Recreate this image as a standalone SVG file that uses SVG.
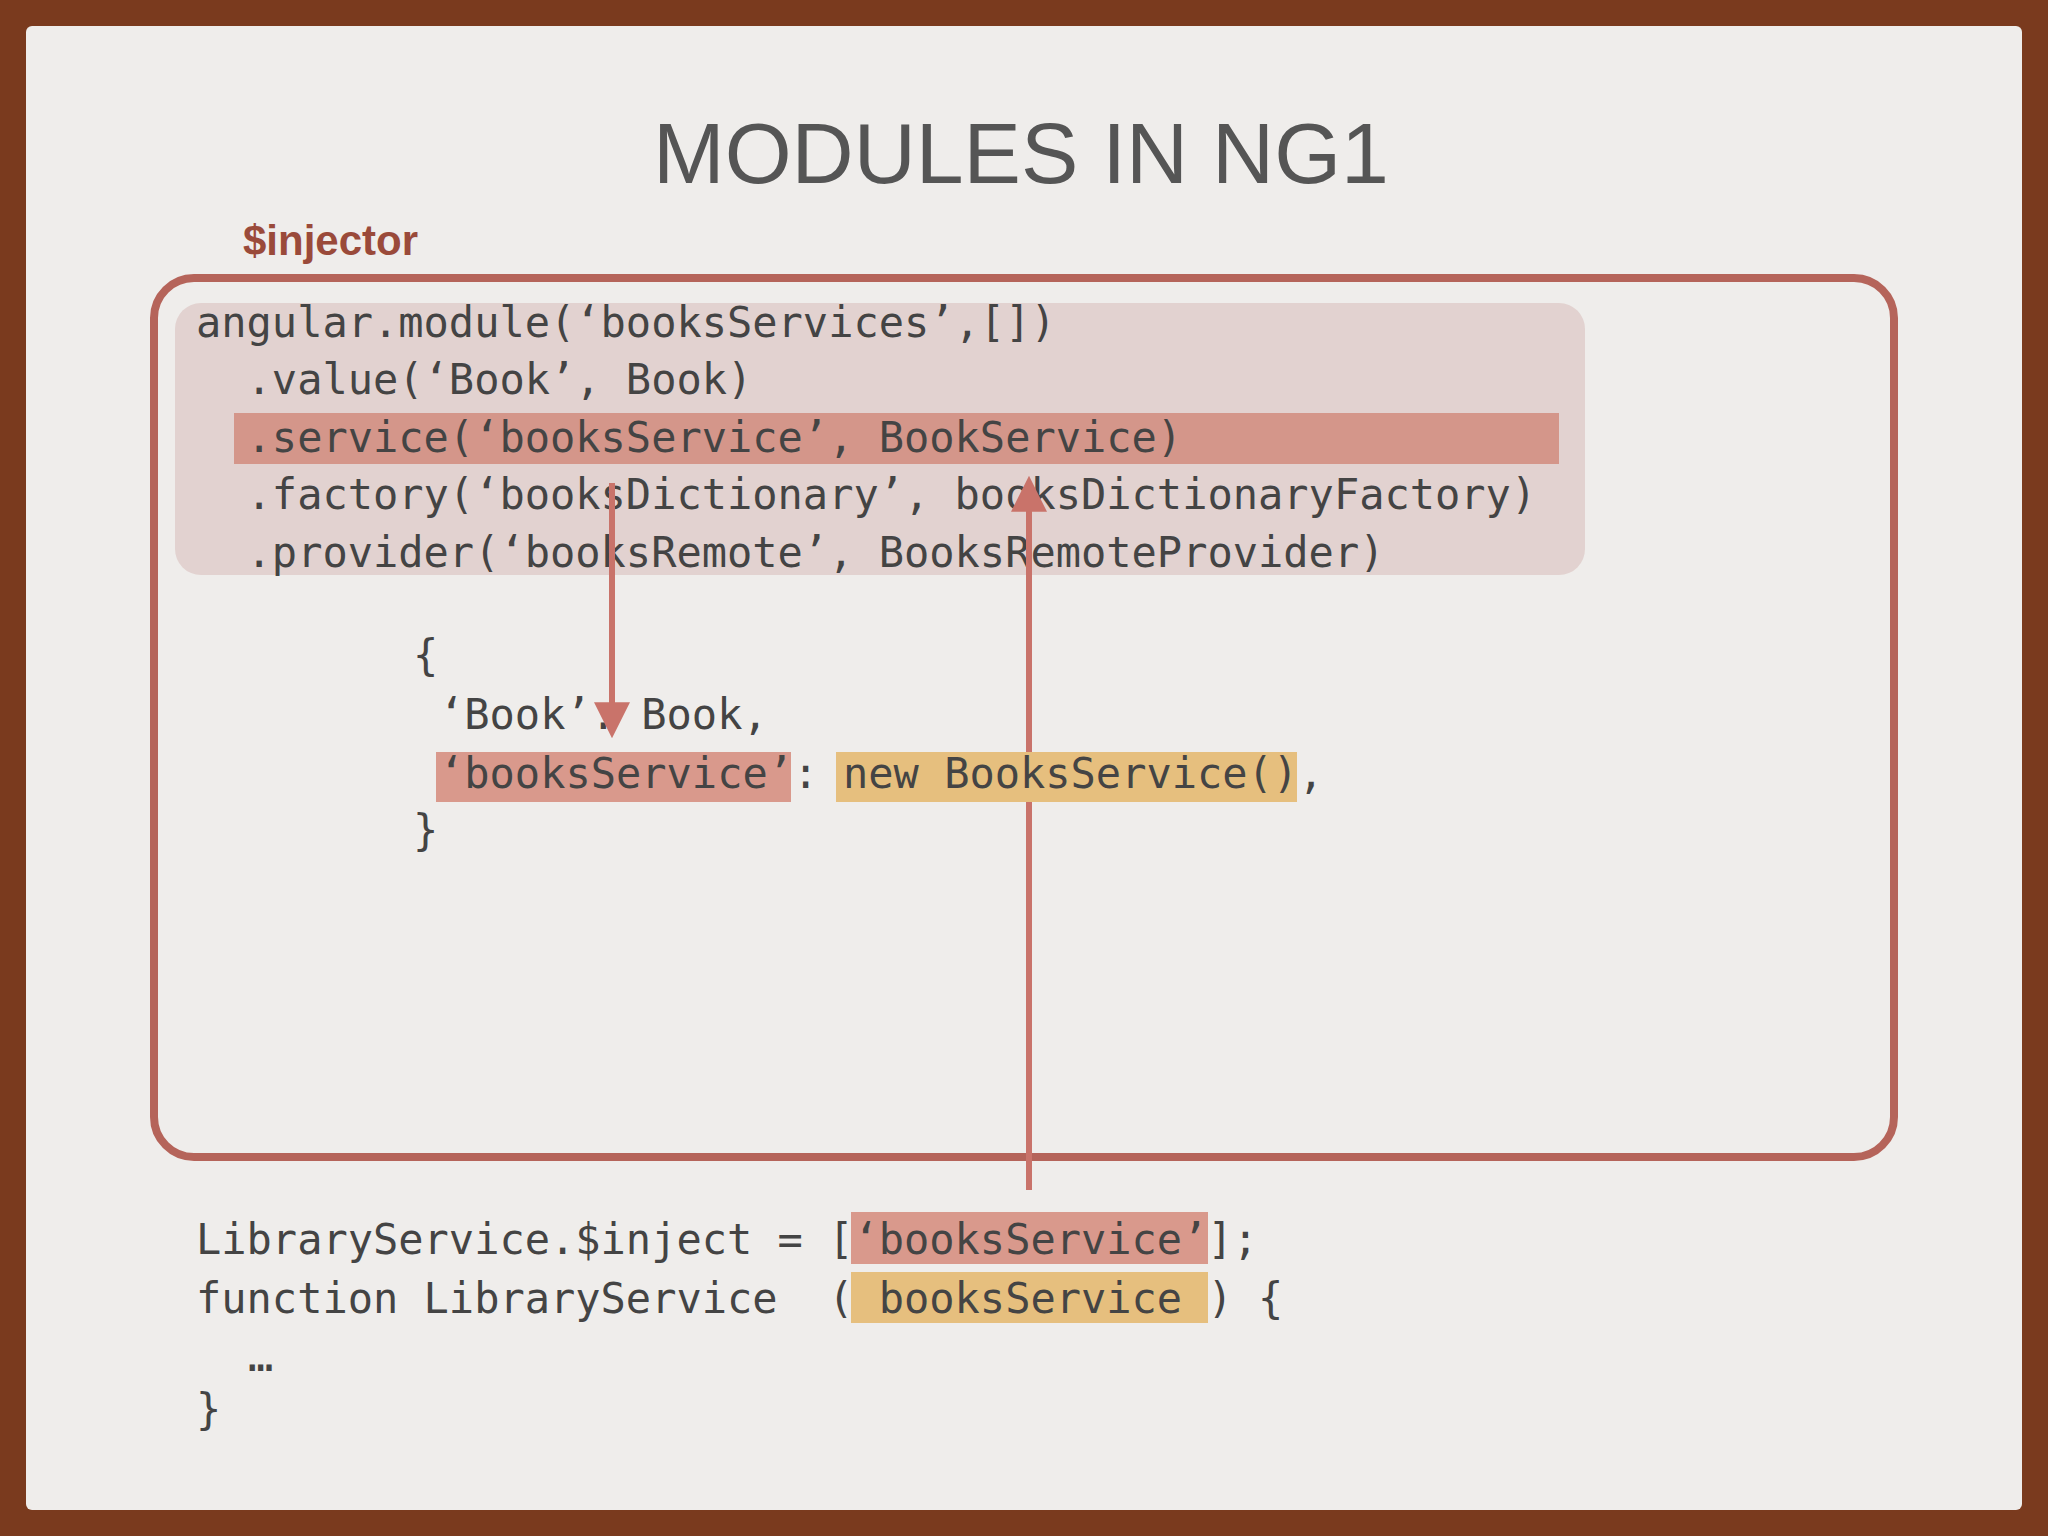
<svg xmlns="http://www.w3.org/2000/svg" width="2048" height="1536" viewBox="0 0 2048 1536">
<style>
.code{font-family:"DejaVu Sans Mono",monospace;font-size:42px;fill:#444;white-space:pre}
.arr{stroke:#c9736a;stroke-width:6;fill:none}
</style>
<defs>
<marker id="ah2" viewBox="0 0 10 10" refX="8" refY="5" markerWidth="36" markerHeight="36" orient="auto" markerUnits="userSpaceOnUse"><path d="M0,0 L10,5 L0,10 z" fill="#c9736a"/></marker>
</defs>
<rect width="2048" height="1536" fill="#7a3a1e"/>
<rect x="26" y="26" width="1996" height="1484" rx="6" fill="#efedeb"/>
<text x="1021" y="183" text-anchor="middle" font-family="Liberation Sans, sans-serif" font-size="86" fill="#555">MODULES IN NG1</text>
<text x="243" y="255" font-family="Liberation Sans, sans-serif" font-weight="bold" font-size="42" fill="#9a4a3a">$injector</text>
<g id="injector">
<rect x="154" y="278" width="1740" height="879" rx="40" fill="none" stroke="#b5645a" stroke-width="8"/>
</g>
<g id="module">
<rect x="175" y="303" width="1410" height="272" rx="26" fill="#e2d2d0"/>
<rect x="234" y="413" width="1325" height="51" fill="#d4968a"/>
<text class="code" x="196" y="337" xml:space="preserve">angular.module(‘booksServices’,[])</text>
<text class="code" x="196" y="394" xml:space="preserve">  .value(‘Book’, Book)</text>
<text class="code" x="196" y="452" xml:space="preserve">  .service(‘booksService’, BookService)</text>
<text class="code" x="196" y="509" xml:space="preserve">  .factory(‘booksDictionary’, booksDictionaryFactory)</text>
<text class="code" x="196" y="567" xml:space="preserve">  .provider(‘booksRemote’, BooksRemoteProvider)</text>
</g>
<g id="registry">
<rect x="436" y="752" width="355" height="50" fill="#d9998c"/>
<text class="code" x="413" y="670" xml:space="preserve">{</text>
<text class="code" x="439" y="729" xml:space="preserve">‘Book’: Book,</text>
<text class="code" x="439" y="788" xml:space="preserve">‘booksService’:</text>
<text class="code" x="413" y="845" xml:space="preserve">}</text>
</g>
<g id="library">
<rect x="851" y="1212" width="357" height="52" fill="#d9998c"/>
<rect x="851" y="1272" width="357" height="51" fill="#e6bf7e"/>
<text class="code" x="196" y="1254" xml:space="preserve">LibraryService.$inject = [‘booksService’];</text>
<text class="code" x="196" y="1313" xml:space="preserve">function LibraryService  ( booksService ) {</text>
<text class="code" x="248" y="1371" xml:space="preserve">…</text>
<text class="code" x="196" y="1424" xml:space="preserve">}</text>
</g>
<g id="connectors">
<line class="arr" x1="612" y1="483" x2="612" y2="731" marker-end="url(#ah2)"/>
<line class="arr" x1="1029" y1="1190" x2="1029" y2="483" marker-end="url(#ah2)"/>
</g>
<g id="instance">
<rect x="836" y="752" width="461" height="50" fill="#e6bf7e"/>
<text class="code" x="843" y="788" xml:space="preserve">new BooksService(),</text>
</g>
</svg>
